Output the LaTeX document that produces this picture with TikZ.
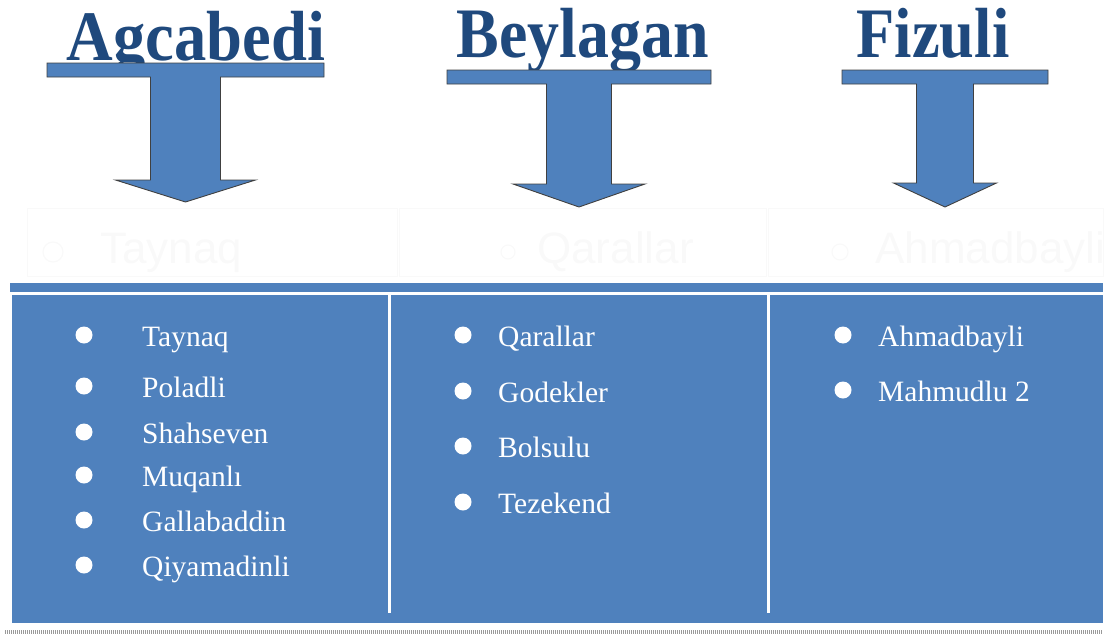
\documentclass[tikz,border=0pt]{standalone}
\usepackage{fontspec}
\setmainfont{Liberation Serif}
\setsansfont{Liberation Sans}
\usetikzlibrary{positioning}

\definecolor{panelblue}{HTML}{4F81BD}
\definecolor{titleblue}{HTML}{1F497D}
\definecolor{ghostgray}{gray}{0.975}

% T-shaped arrow: centre x, bar half width, bar top, shaft half width, head top, head half width, tip y
\newcommand{\tarrow}[7]{%
  \draw[tarr] (#1-#2,#3) -- (#1+#2,#3) -- (#1+#2,#3+14) -- (#1+#4,#3+14) -- (#1+#4,#5)
    -- (#1+#6,#5) -- (#1,#7) -- (#1-#6,#5) -- (#1-#4,#5) -- (#1-#4,#3+14) -- (#1-#2,#3+14) -- cycle;}

\begin{document}
\begin{tikzpicture}[
  x=1pt, y=-1pt,
  title/.style={text=titleblue, inner sep=0pt, anchor=base, font=\fontsize{71}{71}\selectfont\bfseries},
  tarr/.style={fill=panelblue, draw=black!75, line width=0.9pt},
  dot/.style={circle, fill=white, inner sep=0pt, minimum size=17pt},
  item/.style={text=white, inner sep=0pt, anchor=base west, font=\fontsize{29.5}{29.5}\selectfont},
  ghost/.style={text=ghostgray, inner sep=0pt, anchor=base west, font=\sffamily\fontsize{44}{44}\selectfont},
  ghostbox/.style={draw=ghostgray, line width=1pt}
]
\useasboundingbox (0,0) rectangle (1107,634);

% titles
\node[title] (agcabedi) at (196,60) {\scalebox{0.91}[1]{Agcabedi}};
\node[title] (beylagan) at (583,58) {\scalebox{0.9}[1]{Beylagan}};
\node[title] (fizuli) at (933,58) {\scalebox{0.88}[1]{Fizuli}};

% arrows
\tarrow{185.5}{138.5}{63}{35}{180}{70}{202}
\tarrow{579}{132}{70}{32.5}{184}{66}{207}
\tarrow{945}{103}{70}{28.5}{183}{51.5}{207}

% faint boxes under the arrows
\draw[ghostbox] (27,208) rectangle (397,276);
\draw[ghostbox] (399,208) rectangle (766,276);
\draw[ghostbox] (768,208) rectangle (1103,276);
\draw[ghostgray, line width=1.2pt] (53,252) circle (10);
\draw[ghostgray, line width=1.2pt] (508,252) circle (7);
\draw[ghostgray, line width=1.2pt] (840,252) circle (8);
\node[ghost] (g1) at (100,263) {Taynaq};
\node[ghost] (g2) at (537,263) {Qarallar};
\node[ghost] (g3) at (875,263) {Ahmadbayli};

% panel
\fill[panelblue] (10,283) rectangle (1103,292);
\fill[panelblue] (12,295) rectangle (1103,623);
\draw[white, line width=3pt] (389,295) -- (389,613);
\draw[white, line width=3pt] (768,295) -- (768,613);
\draw[black!40, line width=3.5pt, dash pattern=on 1pt off 1pt] (5,632) -- (1103,632);

% Agcabedi
\node[dot] (a1) at (84,335) {};
\node[item] (ta1) at (142,346) {Taynaq};
\node[dot] (a2) at (84,386) {};
\node[item] (ta2) at (142,397) {Poladli};
\node[dot] (a3) at (84,432) {};
\node[item] (ta3) at (142,443) {Shahseven};
\node[dot] (a4) at (84,475) {};
\node[item] (ta4) at (142,486) {Muqanlı};
\node[dot] (a5) at (84,520) {};
\node[item] (ta5) at (142,531) {Gallabaddin};
\node[dot] (a6) at (84,565) {};
\node[item] (ta6) at (142,576) {Qiyamadinli};

% Beylagan
\node[dot] (b1) at (463,335) {};
\node[item] (tb1) at (498,346) {Qarallar};
\node[dot] (b2) at (463,391) {};
\node[item] (tb2) at (498,402) {Godekler};
\node[dot] (b3) at (463,446) {};
\node[item] (tb3) at (498,457) {Bolsulu};
\node[dot] (b4) at (463,502) {};
\node[item] (tb4) at (498,513) {Tezekend};

% Fizuli
\node[dot] (c1) at (843,335) {};
\node[item] (tc1) at (878,346) {Ahmadbayli};
\node[dot] (c2) at (843,390) {};
\node[item] (tc2) at (878,401) {Mahmudlu 2};
\end{tikzpicture}
\end{document}
